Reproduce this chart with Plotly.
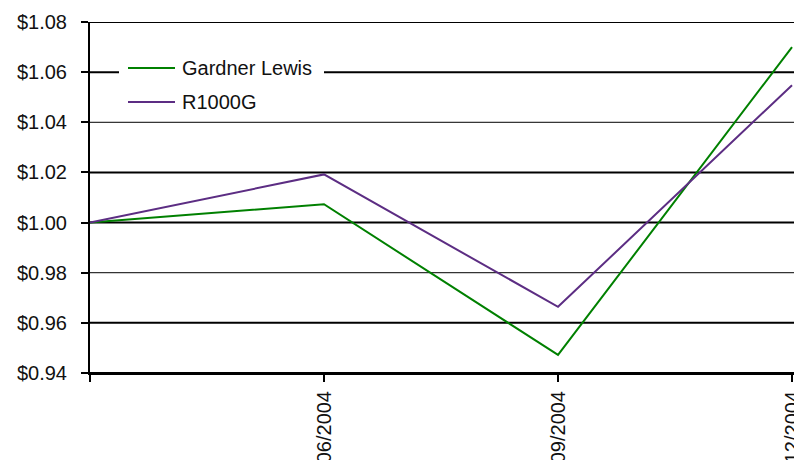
import plotly.graph_objects as go

# Growth of $1, quarter-end values
period_labels = ["", "06/2004", "09/2004", "12/2004"]
gardner_lewis = [1.000, 1.0073, 0.9472, 1.0700]
r1000g = [1.000, 1.0192, 0.9664, 1.0548]
series_names = ["Gardner Lewis", "R1000G"]
series_colors = ["#008000", "#5c2d83"]
y_ticks = [0.94, 0.96, 0.98, 1.00, 1.02, 1.04, 1.06, 1.08]
y_tick_text = ["$%.2f" % v for v in y_ticks]

x_pos = list(range(len(period_labels)))
font = dict(family="Liberation Sans, Arial, sans-serif", size=20, color="#111")

# plot area in pixels, used to place the key
L, R, T, B = 90, 794, 22, 373
def px(x):
    return (x - L) / (R - L)
def py(y):
    return (B - y) / (B - T)

fig = go.Figure()
for vals, name, col in zip([gardner_lewis, r1000g], series_names, series_colors):
    fig.add_trace(go.Scatter(x=x_pos, y=vals, mode="lines", name=name,
                             line=dict(color=col, width=2), showlegend=False))

# horizontal grid lines
thin = {0.98, 1.04}
for v in y_ticks:
    fig.add_shape(type="line", xref="paper", yref="y", x0=0, x1=1, y0=v, y1=v,
                  line=dict(color="black", width=1 if v in thin else 2), layer="below")

# key box with line samples
fig.add_shape(type="rect", xref="paper", yref="paper", x0=px(119), x1=px(324),
              y0=py(120), y1=py(50), fillcolor="white", line=dict(width=0), layer="below")
for i, (name, col) in enumerate(zip(series_names, series_colors)):
    yy = py(68 + 34 * i)
    fig.add_shape(type="line", xref="paper", yref="paper", x0=px(128), x1=px(175),
                  y0=yy, y1=yy, line=dict(color=col, width=2))
    fig.add_annotation(xref="paper", yref="paper", x=px(180), y=yy, text=name,
                       showarrow=False, xanchor="left", yanchor="middle", font=font)

fig.update_layout(
    width=794, height=460,
    margin=dict(l=L, r=0, t=T, b=460 - B, autoexpand=False),
    paper_bgcolor="white", plot_bgcolor="white",
    font=font,
    showlegend=False,
    xaxis=dict(range=[0, 3.0085], tickvals=x_pos, ticktext=period_labels,
               tickangle=-90, ticks="outside", ticklen=7, tickwidth=2, tickcolor="black",
               ticklabeloverflow="allow", automargin=False, ticklabelstandoff=1,
               showgrid=False, zeroline=False, showline=True, linecolor="black", linewidth=2),
    yaxis=dict(range=[0.94, 1.08], tickvals=y_ticks, ticktext=y_tick_text,
               ticks="outside", ticklen=7, tickwidth=2, tickcolor="black",
               ticklabelstandoff=10, automargin=False,
               showgrid=False, zeroline=False, showline=True, linecolor="black", linewidth=2),
)

fig.write_html("out.html")
